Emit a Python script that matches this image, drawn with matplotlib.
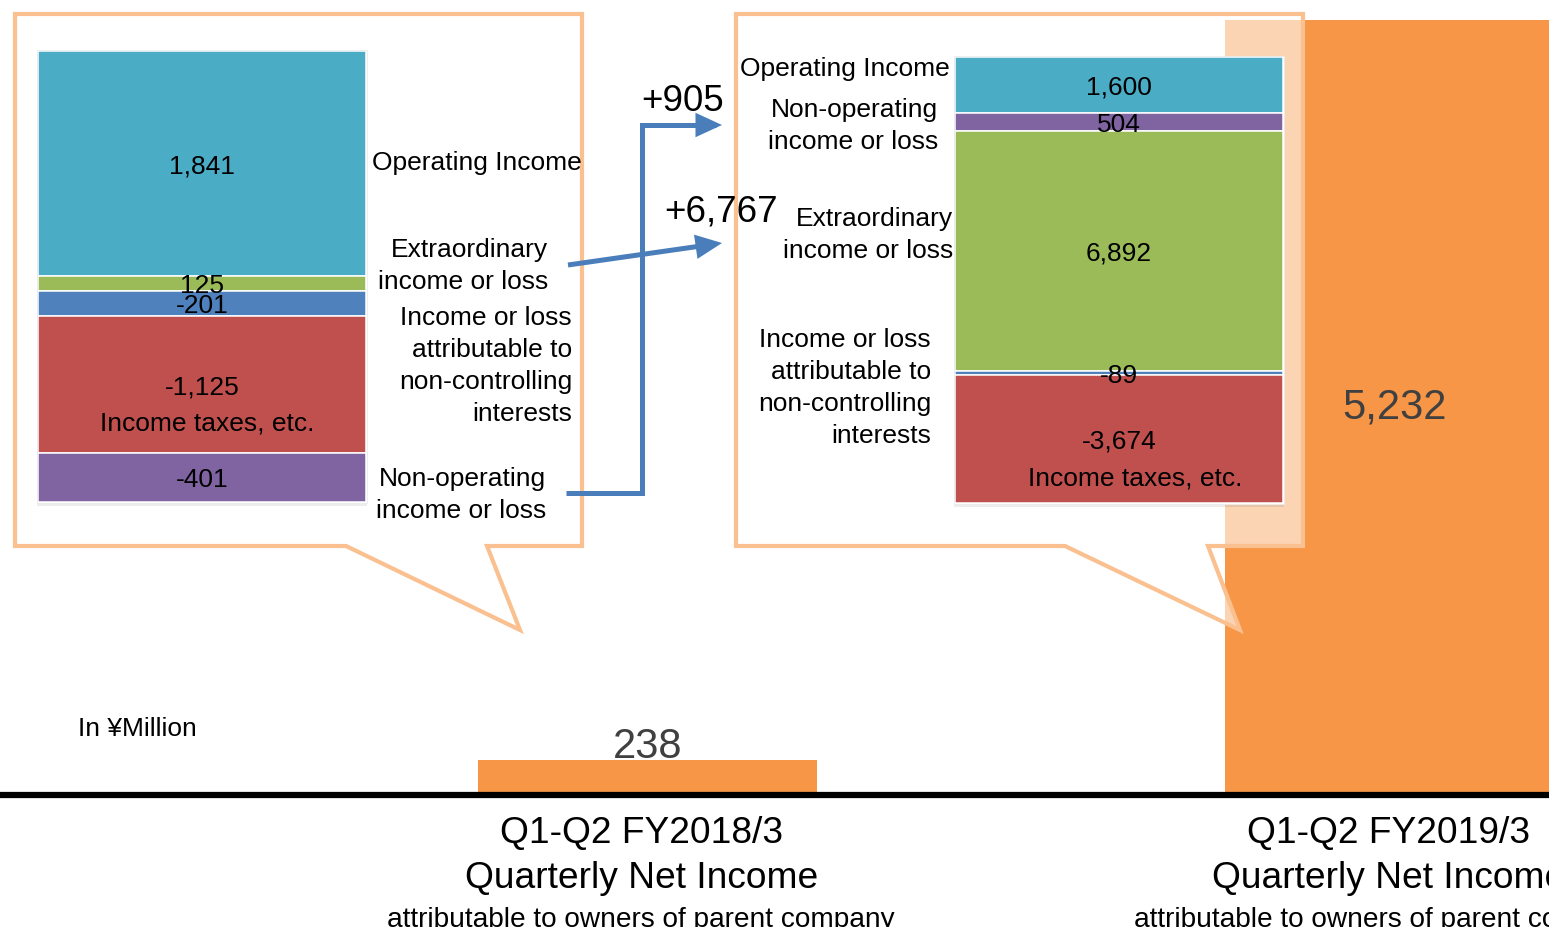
import matplotlib
matplotlib.use("Agg")
import matplotlib.pyplot as plt
from matplotlib.patches import Polygon, Rectangle, FancyArrowPatch, ArrowStyle
from matplotlib.path import Path

plt.rcParams['font.family'] = ['Liberation Sans', 'DejaVu Sans']

W, H = 1549, 927

# data (in ¥ million)
periods = ["Q1-Q2 FY2018/3", "Q1-Q2 FY2019/3"]
title_line = "Quarterly Net Income"
sub_line = "attributable to owners of parent company"
net_income = [238, 5232]
unit_label = "In \u00a5Million"

items_prev = ["op", "extra", "nci", "tax", "nonop"]
values_prev = [1841, 125, -201, -1125, -401]
items_curr = ["op", "nonop", "extra", "nci", "tax"]
values_curr = [1600, 504, 6892, -89, -3674]

item_colors = {"op": "#4BACC6", "extra": "#9BBB59", "nci": "#4F81BD",
               "tax": "#C0504D", "nonop": "#8064A2"}
tax_label = "Income taxes, etc."

BAR = "#F79646"
EDGE = "#FAC090"
BLUE = "#4A7EBB"
FS = 19
LS = 1.42


def px_axes(x0, y0, x1, y1, z):
    a = fig.add_axes([x0 / W, 1 - y1 / H, (x1 - x0) / W, (y1 - y0) / H])
    a.set_zorder(z)
    return a


def stacked(ax, items, values, tax_dx):
    total = sum(abs(v) for v in values)
    bottom = 0
    for it, v in zip(items, values):
        ax.bar(0, abs(v), bottom=bottom, width=1, color=item_colors[it],
               edgecolor="white", linewidth=1.1)
        mid = bottom + abs(v) / 2
        ax.annotate(f"{v:,}", (0, mid), xytext=(0, -2), textcoords="offset points",
                    ha="center", va="center", fontsize=19)
        if it == "tax":
            ax.annotate(tax_label, (0, mid), xytext=(tax_dx, -28.5),
                        textcoords="offset points", ha="center", va="center",
                        fontsize=FS)
        bottom += abs(v)
    ax.set_xlim(-0.5, 0.5)
    ax.set_ylim(total, 0)
    ax.axis("off")


def label(x, y, s, ha="right"):
    ov.text(x, y, s, ha=ha, va="center", multialignment=ha, fontsize=FS,
            linespacing=LS)


fig = plt.figure(figsize=(W / 100, H / 100), dpi=100)

# main net income bars
ax = fig.add_axes([0, 132 / H, 1, 795 / H])
ax.set_zorder(0)
ax.set_xlim(-647.5 / 747, (W - 647.5) / 747)
ax.set_ylim(0, 5367)
ax.bar(range(len(net_income)), net_income, width=0.454, color=BAR)
ax.axhline(0, color="black", lw=4.5, clip_on=False)
ax.annotate(f"{net_income[0]:,}", (0, net_income[0]), xytext=(0, 1.5),
            textcoords="offset points", ha="center", va="baseline",
            fontsize=30, color="#404040")
ax.annotate(f"{net_income[1]:,}", (1, net_income[1] / 2), ha="center", va="center",
            fontsize=30, color="#404040")
for i, p in enumerate(periods):
    ax.annotate(p, (i, 0), xytext=(-4.5, -34.6), textcoords="offset points",
                ha="center", va="baseline", fontsize=26.7, annotation_clip=False)
    ax.annotate(title_line, (i, 0), xytext=(-4.5, -67), textcoords="offset points",
                ha="center", va="baseline", fontsize=26.7, annotation_clip=False)
    ax.annotate(sub_line, (i, 0), xytext=(-4.5, -95), textcoords="offset points",
                ha="center", va="baseline", fontsize=20.2, annotation_clip=False)
ax.axis("off")

# overlay in pixel coordinates
ov = px_axes(0, 0, W, H, 1)
ov.set_xlim(0, W)
ov.set_ylim(H, 0)
ov.axis("off")

left_call = [(15, 14), (582, 14), (582, 546), (487, 546), (520, 630), (346, 546), (15, 546)]
right_call = [(736, 14), (1303, 14), (1303, 546), (1208, 546), (1240, 630), (1065, 546), (736, 546)]
for pts in (left_call, right_call):
    ov.add_patch(Polygon(pts, closed=True, facecolor=(1, 1, 1, 0.6),
                         edgecolor=EDGE, lw=3, joinstyle="miter"))

# soft shadows behind the breakdown bars
for x0, y0, x1, y1 in [(38, 51, 366, 502), (955, 57, 1283, 503)]:
    ov.add_patch(Rectangle((x0 - 1, y0 + 1), x1 - x0 + 2, y1 - y0 + 3,
                           color="black", alpha=0.07, lw=0))
    ov.add_patch(Rectangle((x0 - 1, y0 - 1), x1 - x0 + 2, y1 - y0 + 2,
                           facecolor="white", edgecolor="#EBEBEB", lw=0.6))

ov.text(78, 736, unit_label, ha="left", va="baseline", fontsize=FS)

# labels left callout
label(372, 163, "Operating Income", ha="left")
label(548, 266, "Extraordinary\nincome or loss")
label(572, 366, "Income or loss\nattributable to\nnon-controlling\ninterests")
label(546, 495, "Non-operating\nincome or loss")

# labels right callout
label(950, 69, "Operating Income")
label(938, 126, "Non-operating\nincome or loss")
label(953, 235, "Extraordinary\nincome or loss")
label(931, 388, "Income or loss\nattributable to\nnon-controlling\ninterests")

# change arrows
d_nonop = values_curr[items_curr.index("nonop")] - values_prev[items_prev.index("nonop")]
d_extra = values_curr[items_curr.index("extra")] - values_prev[items_prev.index("extra")]
style = ArrowStyle("-|>", head_length=13, head_width=6)
for verts in ([(566, 493), (642, 493), (642, 125), (722, 125)],
              [(568, 265), (722, 243)]):
    ov.add_patch(FancyArrowPatch(path=Path(verts), arrowstyle=style, mutation_scale=1,
                                 lw=3.6, color=BLUE, joinstyle="miter", capstyle="butt"))
ov.text(683, 101, f"+{d_nonop:,}", ha="center", va="center", fontsize=26.5)
ov.text(721, 212, f"+{d_extra:,}", ha="center", va="center", fontsize=26.5)

# breakdown bars
ax_l = px_axes(38, 51, 366, 502, 2)
stacked(ax_l, items_prev, values_prev, 3.6)
ax_r = px_axes(955, 57, 1283, 503, 2)
stacked(ax_r, items_curr, values_curr, 11.5)

fig.savefig("out.png", dpi=100)
